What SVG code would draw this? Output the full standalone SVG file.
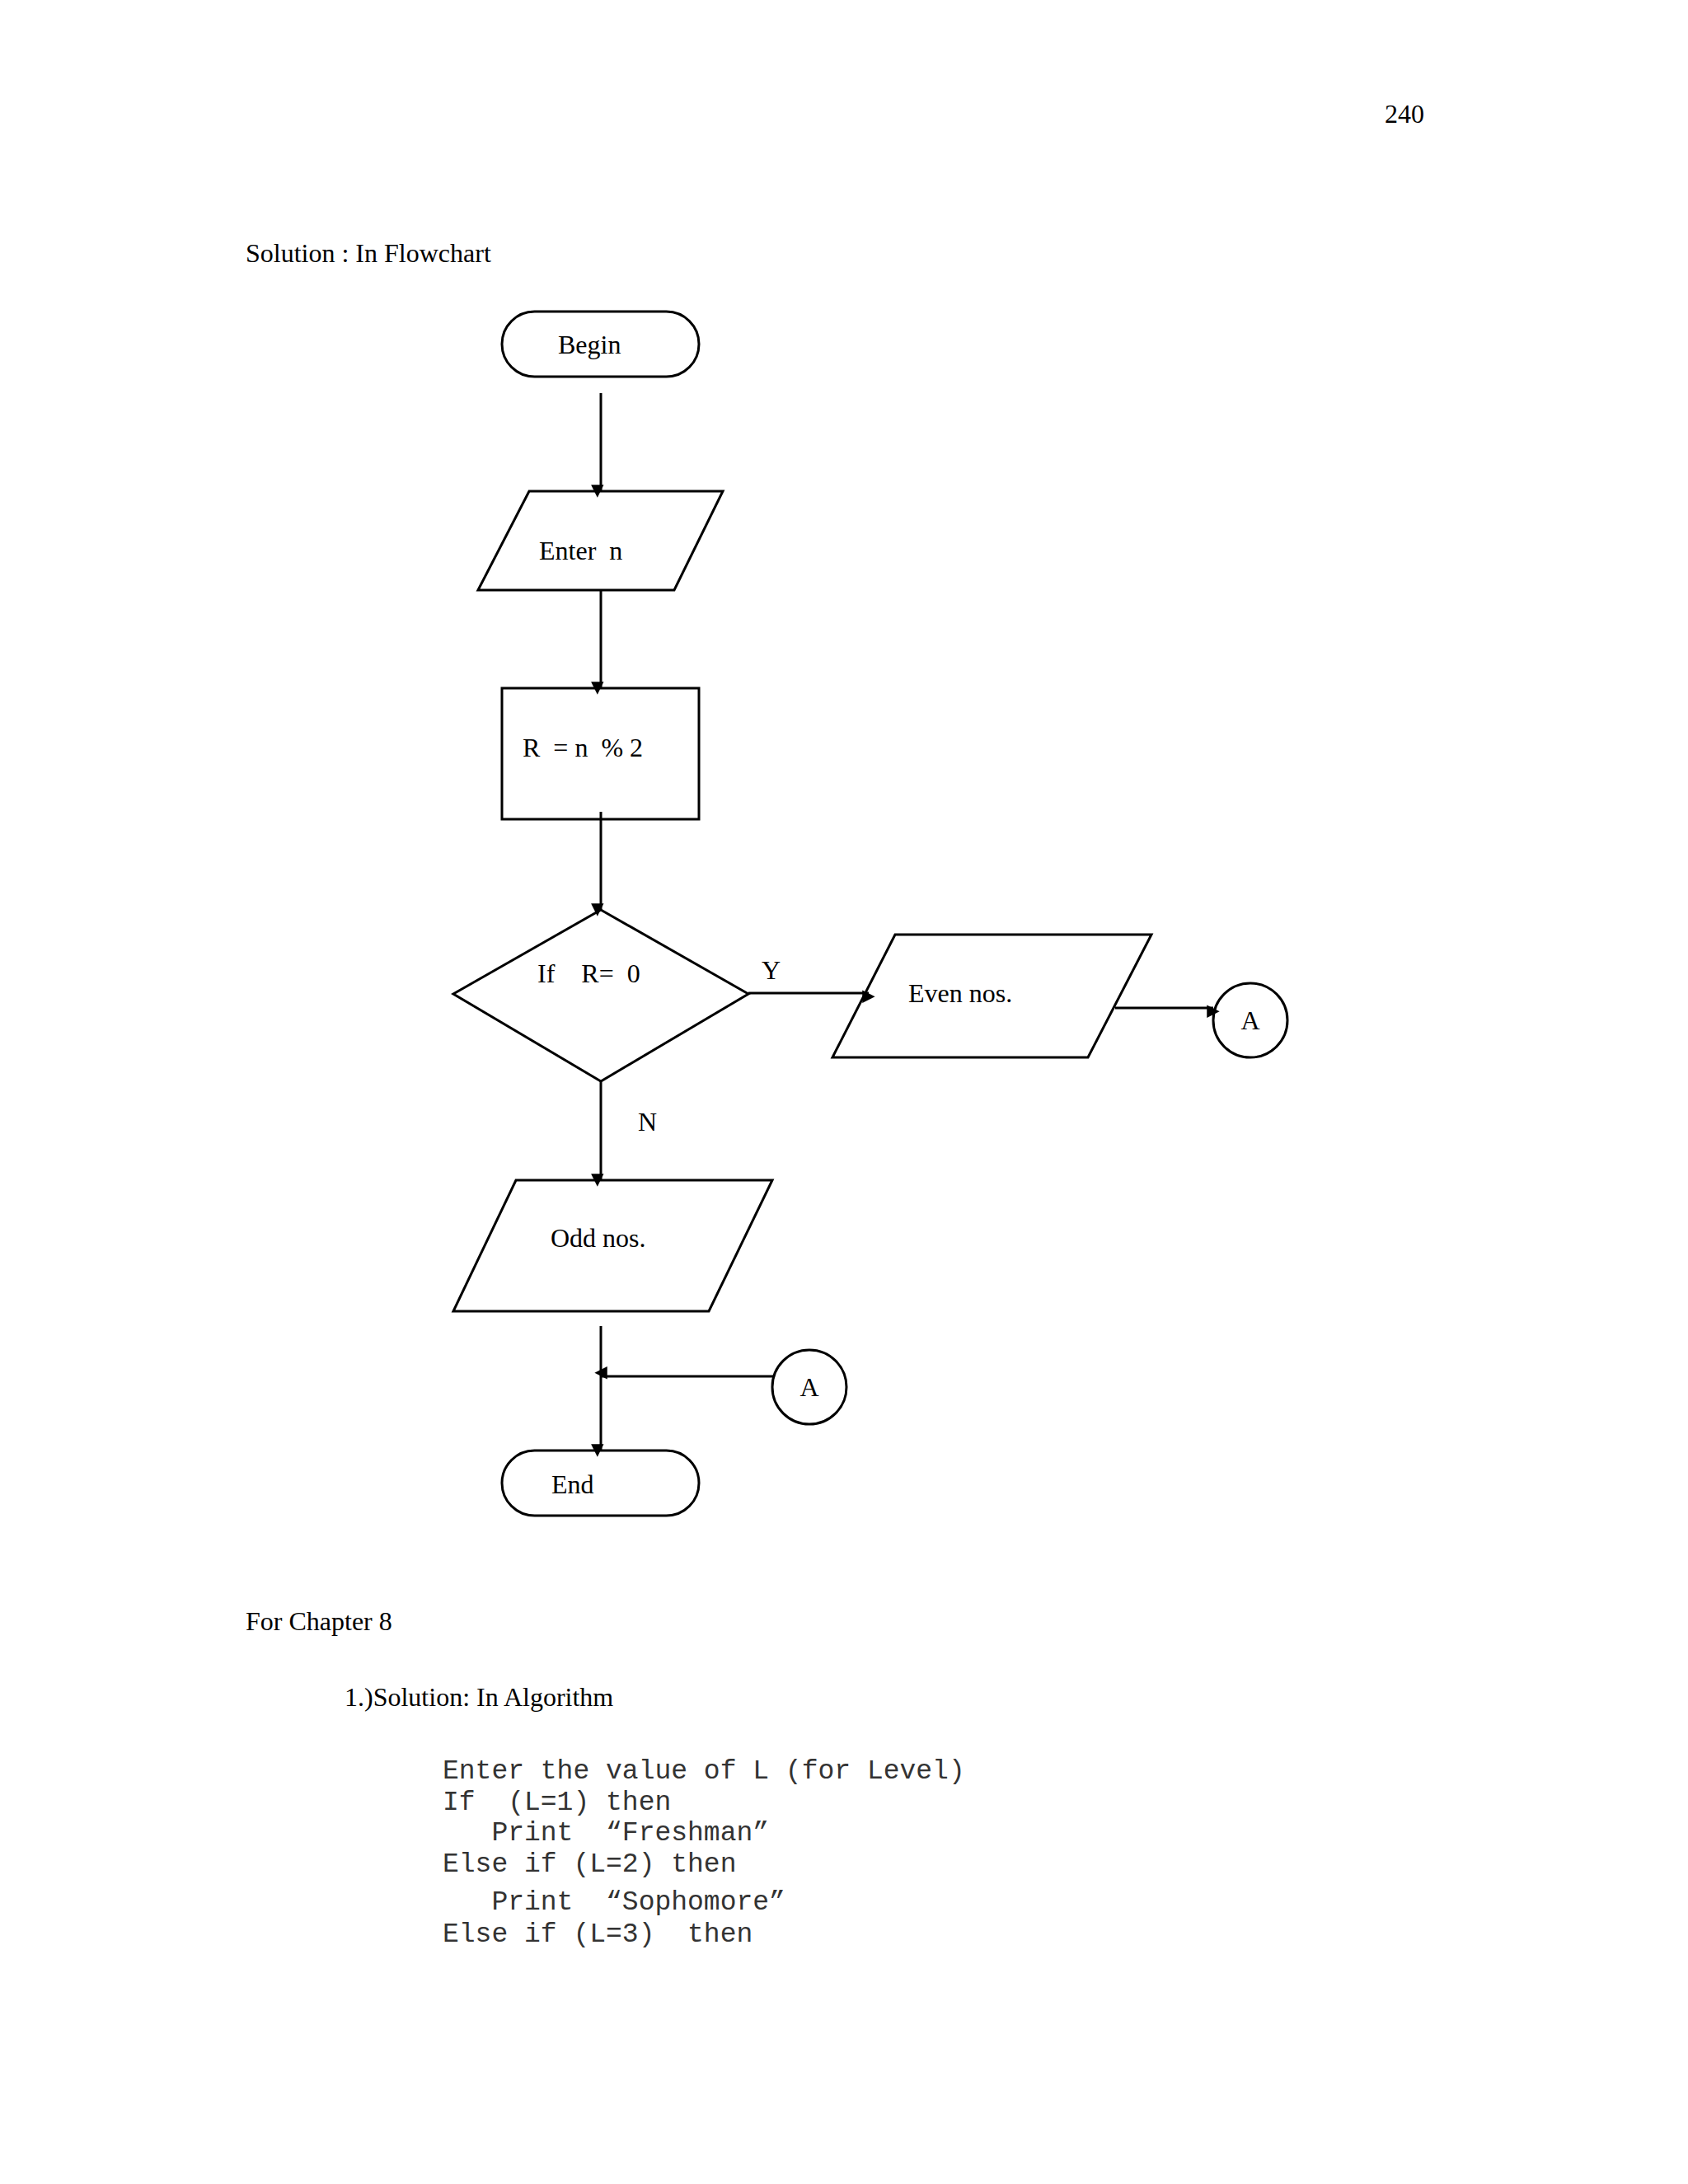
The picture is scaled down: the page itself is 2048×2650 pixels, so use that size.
<svg xmlns="http://www.w3.org/2000/svg" width="2048" height="2650" viewBox="0 0 2048 2650">
<style>
.s{fill:none;stroke:#000;stroke-width:3}
.t{font-family:"Liberation Serif",serif;font-size:32px;fill:#000}
.c{font-family:"Liberation Mono",monospace;font-size:33px;fill:#333;white-space:pre}
.l{stroke:#000;stroke-width:3;fill:none;marker-end:url(#a)}
</style>
<defs><marker id="a" viewBox="0 0 10 10" refX="10" refY="5" markerWidth="7" markerHeight="7" orient="auto" markerUnits="userSpaceOnUse" style="overflow:visible"><path d="M0,0 L10,5 L0,10 z" fill="#000" transform="scale(2.2) translate(-5.5,-2.75) translate(5,2.75)"/></marker></defs>
<rect width="2048" height="2650" fill="#fff"/>
<text class="t" x="1680" y="149" font-size="30">240</text>
<text class="t" x="298" y="318" font-size="37">Solution : In Flowchart</text>
<g id="begin"><rect class="s" x="609" y="378" width="239" height="79" rx="39.5"/><text class="t" x="677" y="429">Begin</text></g>
<g id="enter"><polygon class="s" points="642,596 877,596 818,716 580,716"/><text class="t" x="654" y="679" xml:space="preserve">Enter  n</text></g>
<g id="calc"><rect class="s" x="609" y="835" width="239" height="159"/><text class="t" x="634" y="918" xml:space="preserve">R  = n  % 2</text></g>
<g id="dec"><polygon class="s" points="729,1104 908,1206 729,1312 550,1206"/><text class="t" x="652" y="1192" xml:space="preserve">If    R=  0</text></g>
<g id="even"><polygon class="s" points="1086,1134 1397,1134 1320,1283 1010,1283"/><text class="t" x="1102" y="1216">Even nos.</text></g>
<g id="a1"><circle class="s" cx="1517" cy="1238" r="45"/><text class="t" x="1517" y="1249" text-anchor="middle" font-size="30">A</text></g>
<g id="odd"><polygon class="s" points="626,1432 937,1432 860,1591 550,1591"/><text class="t" x="668" y="1513">Odd nos.</text></g>
<g id="a2"><circle class="s" cx="982" cy="1683" r="45"/><text class="t" x="982" y="1694" text-anchor="middle" font-size="30">A</text></g>
<g id="end"><rect class="s" x="609" y="1760" width="239" height="79" rx="39.5"/><text class="t" x="669" y="1812">End</text></g>
<g id="connectors">
<line class="l" x1="729" y1="477" x2="729" y2="596"/>
<line class="l" x1="729" y1="716" x2="729" y2="835"/>
<line class="l" x1="729" y1="985" x2="729" y2="1104"/>
<line class="l" x1="908" y1="1205" x2="1054" y2="1205"/>
<line class="l" x1="1353" y1="1223" x2="1472" y2="1223"/>
<line class="l" x1="729" y1="1312" x2="729" y2="1432"/>
<line class="l" x1="729" y1="1609" x2="729" y2="1760"/>
<line class="l" x1="939" y1="1670" x2="729" y2="1670"/>
<text class="t" x="924" y="1188" font-size="40">Y</text>
<text class="t" x="774" y="1372" font-size="40">N</text>
</g>
<text class="t" x="298" y="1978" font-size="54">For Chapter 8</text>
<text class="t" x="418" y="2070" font-size="40">1.)Solution: In Algorithm</text>
<text class="c" x="537" y="2158">Enter the value of L (for Level)</text>
<text class="c" x="537" y="2196">If  (L=1) then</text>
<text class="c" x="537" y="2233">   Print  “Freshman”</text>
<text class="c" x="537" y="2271">Else if (L=2) then</text>
<text class="c" x="537" y="2317">   Print  “Sophomore”</text>
<text class="c" x="537" y="2356">Else if (L=3)  then</text>
</svg>
